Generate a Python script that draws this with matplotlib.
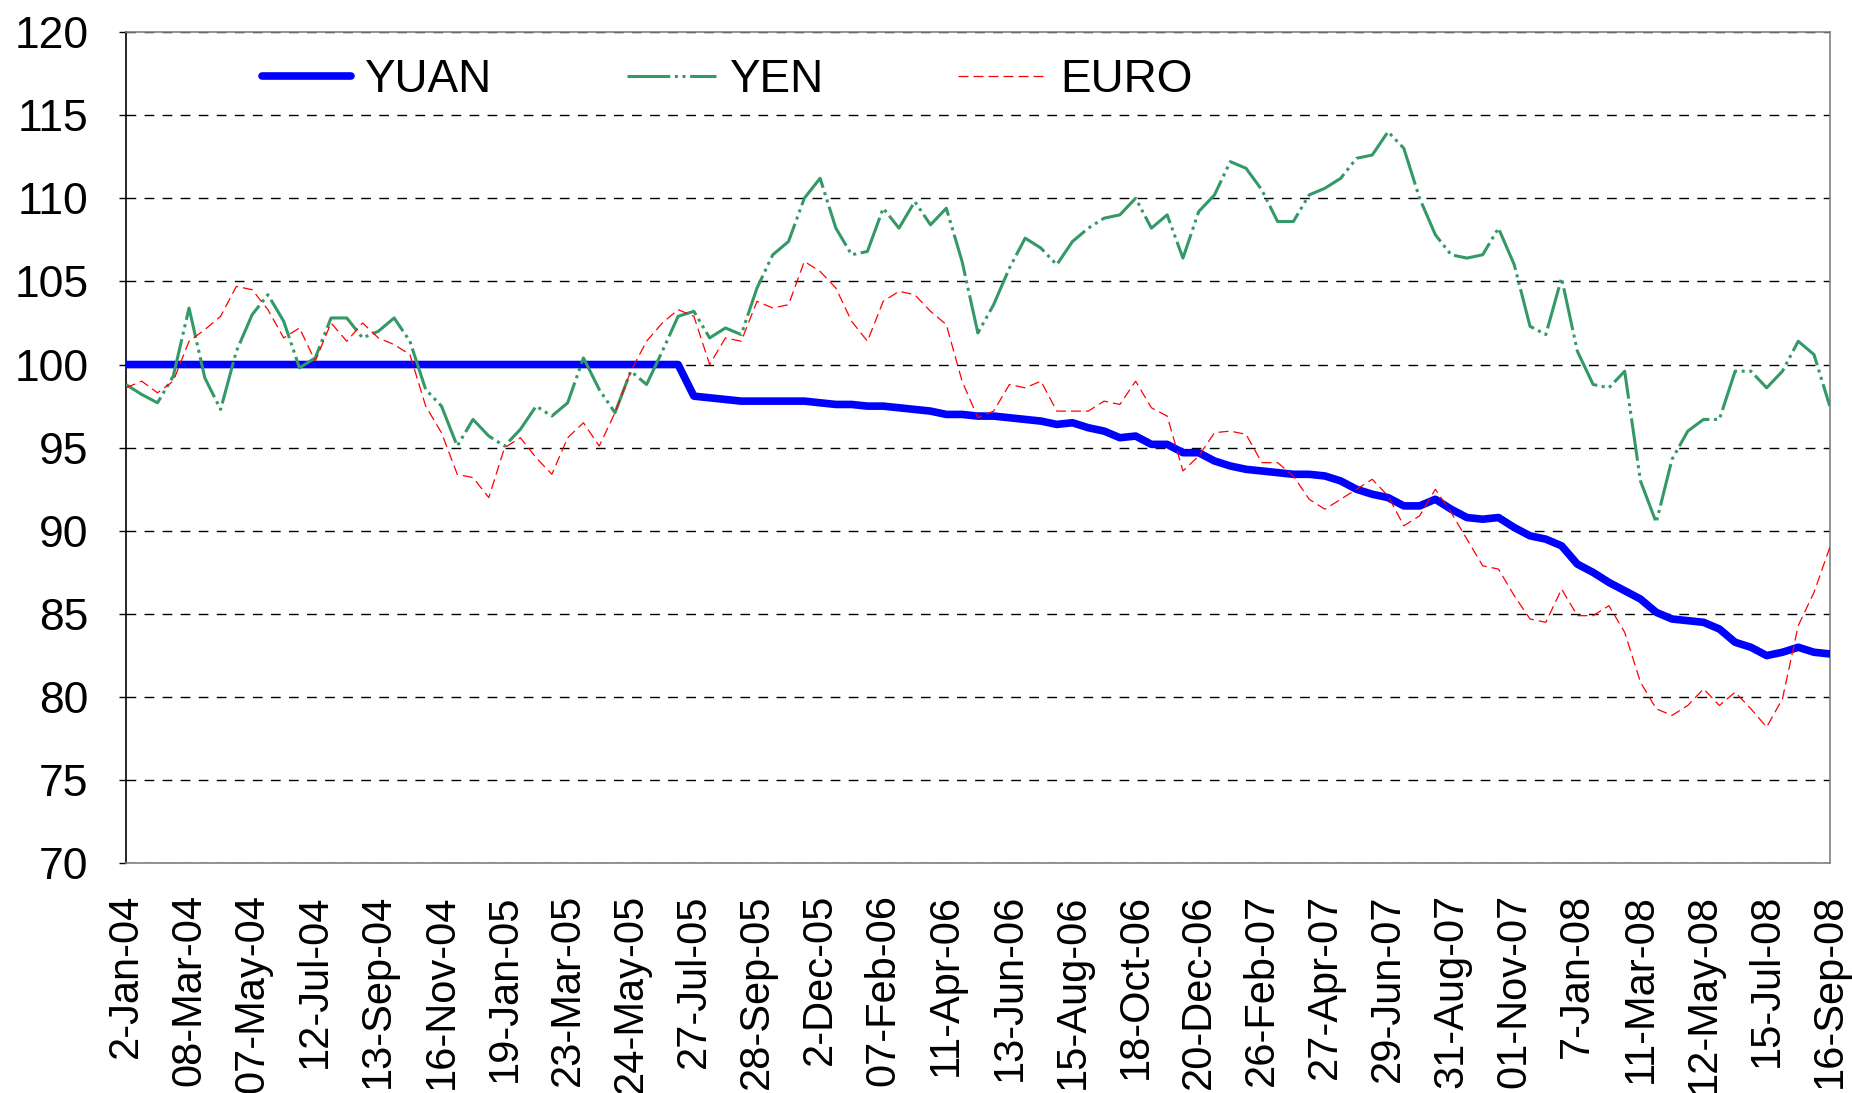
import numpy as np
import matplotlib

matplotlib.use("Agg")
import matplotlib.pyplot as plt

plt.rcParams["font.family"] = ["Liberation Sans", "DejaVu Sans"]

# tick labels every 4th sample (samples are quarter steps between labels)
date_labels = [
    "2-Jan-04", "08-Mar-04", "07-May-04", "12-Jul-04", "13-Sep-04", "16-Nov-04",
    "19-Jan-05", "23-Mar-05", "24-May-05", "27-Jul-05", "28-Sep-05", "2-Dec-05",
    "07-Feb-06", "11-Apr-06", "13-Jun-06", "15-Aug-06", "18-Oct-06", "20-Dec-06",
    "26-Feb-07", "27-Apr-07", "29-Jun-07", "31-Aug-07", "01-Nov-07", "7-Jan-08",
    "11-Mar-08", "12-May-08", "15-Jul-08", "16-Sep-08",
]

yuan = [100.0] * 36 + [
    98.1, 98.0, 97.9, 97.8, 97.8, 97.8, 97.8, 97.8, 97.7, 97.6, 97.6, 97.5,
    97.5, 97.4, 97.3, 97.2, 97.0, 97.0, 96.9, 96.9, 96.8, 96.7, 96.6, 96.4,
    96.5, 96.2, 96.0, 95.6, 95.7, 95.2, 95.2, 94.7, 94.7, 94.2, 93.9, 93.7,
    93.6, 93.5, 93.4, 93.4, 93.3, 93.0, 92.5, 92.2, 92.0, 91.5, 91.5, 91.9,
    91.3, 90.8, 90.7, 90.8, 90.2, 89.7, 89.5, 89.1, 88.0, 87.5, 86.9, 86.4,
    85.9, 85.1, 84.7, 84.6, 84.5, 84.1, 83.3, 83.0, 82.5, 82.7, 83.0, 82.7,
    82.6,
]

yen = [
    98.8, 98.2, 97.7, 99.3, 103.4, 99.2, 97.3, 100.8, 103.0, 104.2, 102.6, 99.8,
    100.4, 102.8, 102.8, 101.6, 102.0, 102.8, 101.4, 98.5, 97.5, 95.1, 96.7, 95.7,
    95.1, 96.1, 97.5, 96.9, 97.7, 100.4, 98.5, 97.1, 99.6, 98.8, 100.8, 102.9,
    103.2, 101.6, 102.2, 101.8, 104.6, 106.6, 107.4, 110.0, 111.2, 108.2, 106.6, 106.8,
    109.4, 108.2, 109.8, 108.4, 109.4, 106.2, 101.9, 103.6, 105.8, 107.6, 107.0, 106.0,
    107.4, 108.2, 108.8, 109.0, 110.0, 108.2, 109.0, 106.4, 109.2, 110.2, 112.2, 111.8,
    110.5, 108.6, 108.6, 110.2, 110.6, 111.2, 112.4, 112.6, 114.0, 113.0, 110.0, 107.8,
    106.6, 106.4, 106.6, 108.2, 106.0, 102.3, 101.8, 105.2, 100.8, 98.8, 98.6, 99.6,
    93.0, 90.5, 94.3, 96.0, 96.7, 96.7, 99.6, 99.6, 98.6, 99.6, 101.4, 100.6,
    97.5,
]

euro = [
    98.6, 99.0, 98.3, 99.0, 101.4, 102.1, 102.9, 104.7, 104.5, 103.3, 101.6, 102.2,
    100.2, 102.5, 101.4, 102.5, 101.6, 101.2, 100.6, 97.5, 95.9, 93.4, 93.2, 92.0,
    95.0, 95.6, 94.4, 93.4, 95.6, 96.5, 95.1, 97.1, 99.6, 101.4, 102.5, 103.3,
    102.9, 100.0, 101.6, 101.4, 103.8, 103.4, 103.6, 106.2, 105.6, 104.6, 102.6, 101.4,
    103.8, 104.4, 104.2, 103.2, 102.4, 99.0, 96.8, 97.2, 98.8, 98.6, 99.0, 97.2,
    97.2, 97.2, 97.8, 97.6, 99.0, 97.4, 96.9, 93.6, 94.5, 95.9, 96.0, 95.8,
    94.1, 94.1, 93.3, 91.9, 91.3, 91.9, 92.5, 93.1, 92.1, 90.3, 90.9, 92.5,
    91.1, 89.5, 87.9, 87.7, 86.1, 84.7, 84.5, 86.5, 84.9, 84.9, 85.5, 83.9,
    80.9, 79.3, 78.9, 79.5, 80.5, 79.5, 80.3, 79.3, 78.2, 79.9, 84.3, 86.3,
    89.0,
]

x = np.arange(len(yuan))

fig = plt.figure(figsize=(18.52, 10.93), dpi=100)
ax = fig.add_axes([0.068, 0.21, 0.92, 0.7608])

ax.plot(x, yuan, color="#0000FF", lw=5.5, solid_capstyle="round",
        solid_joinstyle="round", label="YUAN", zorder=3)
ax.plot(x, yen, color="#339966", lw=2.2, dashes=(14, 1.5, 1, 1.5, 1, 1.5),
        label="YEN", zorder=4)
ax.plot(x, euro, color="#FF0000", lw=0.9, dashes=(8, 4), label="EURO", zorder=5)

ax.set_xlim(0, len(x) - 1)
ax.set_ylim(70, 120)
ax.set_yticks(range(70, 121, 5))
ax.set_xticks(x[::4])
ax.set_xticklabels(date_labels, rotation=90, va="top", ha="center")

ax.tick_params(axis="y", labelsize=32, length=5, width=1, direction="out", pad=22)
ax.tick_params(axis="x", labelsize=30, length=0, pad=22)

ax.yaxis.grid(True, color="black", lw=1.0, dashes=(7, 6))
ax.set_axisbelow(True)

for side in ["top", "right", "bottom"]:
    ax.spines[side].set_color("#808080")
    ax.spines[side].set_linewidth(1.2)
ax.spines["left"].set_color("black")
ax.spines["left"].set_linewidth(1.2)

fig.legend(
    loc="center left",
    bbox_to_anchor=(0.1415, 0.927),
    ncol=3,
    frameon=False,
    fontsize=33,
    handlelength=1.95,
    handletextpad=0.28,
    columnspacing=2.95,
    borderpad=0,
    borderaxespad=0,
)

fig.savefig("out.png", dpi=100)
